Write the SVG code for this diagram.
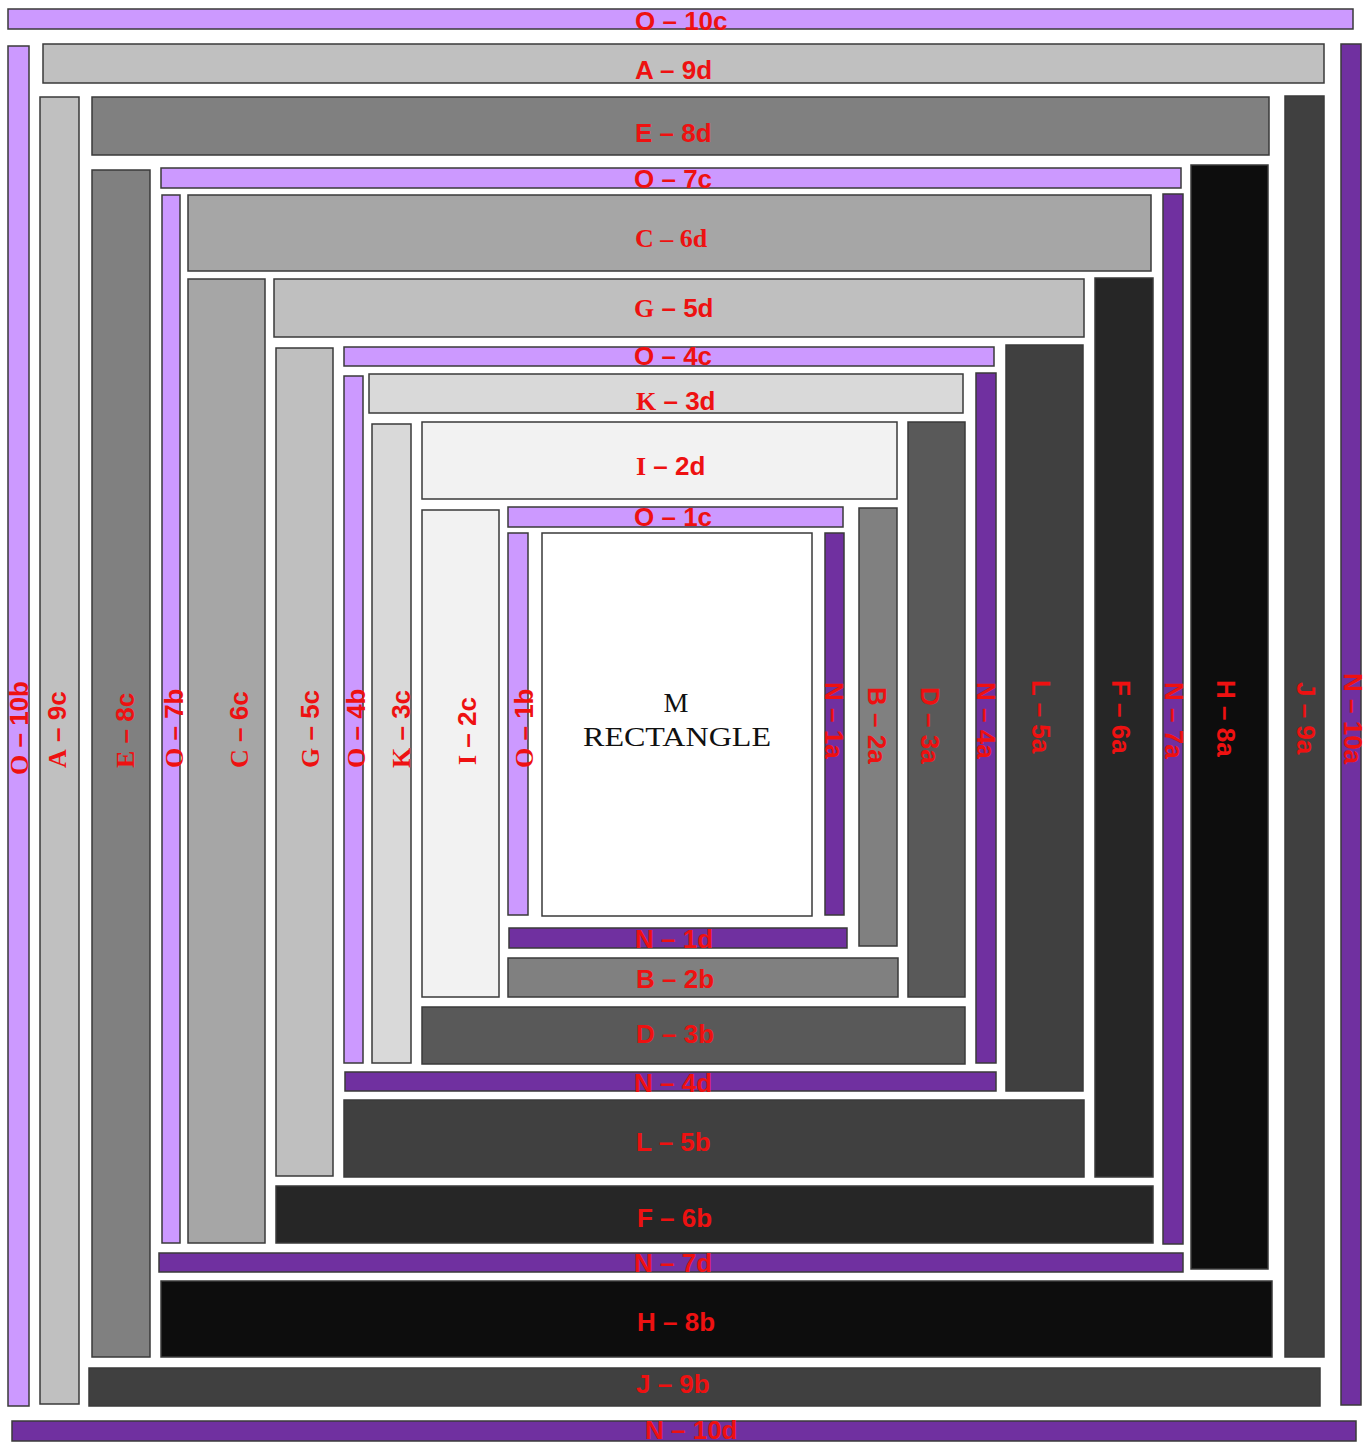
<svg xmlns="http://www.w3.org/2000/svg" width="1370" height="1445" viewBox="0 0 1370 1445">
<style>
.n rect{stroke:#3a3a3a;stroke-width:1.5}
.lp{fill:#CC99FF}
.dp{fill:#7030A0}
text{font-family:"Liberation Sans",Arial,sans-serif;font-weight:bold;font-size:26px;fill:#EE1111}
.s{font-family:"Liberation Serif","Times New Roman",serif}
.m{font-family:"Liberation Serif","Times New Roman",serif;font-weight:normal;font-size:28px;fill:#111;text-anchor:middle}
</style>
<rect width="1370" height="1445" fill="#fff"/>
<g id="nodes" class="n">
<g id="O10c"><rect class="lp" x="8" y="9" width="1345" height="20"/><text x="635" y="30">O – 10c</text></g>
<g id="O10b"><rect class="lp" x="8" y="46" width="21" height="1360"/><text transform="translate(28,775) rotate(-90)"><tspan class="s">O</tspan> – 10b</text></g>
<g id="N10a"><rect class="dp" x="1341" y="44" width="20" height="1361"/><text transform="translate(1344,673) rotate(90)">N – 10a</text></g>
<g id="N10d"><rect class="dp" x="12" y="1421" width="1344" height="20"/><text x="645" y="1439">N – 10d</text></g>
<g id="A9d"><rect fill="#C0C0C0" x="43" y="44" width="1281" height="39"/><text x="635" y="79">A – 9d</text></g>
<g id="A9c"><rect fill="#C0C0C0" x="40" y="97" width="39" height="1307"/><text transform="translate(66,768) rotate(-90)"><tspan class="s">A</tspan> – 9c</text></g>
<g id="J9a"><rect fill="#404040" x="1285" y="96" width="39" height="1261"/><text transform="translate(1297,682) rotate(90)">J – 9a</text></g>
<g id="J9b"><rect fill="#404040" x="89" y="1368" width="1231" height="38"/><text x="636" y="1393">J – 9b</text></g>
<g id="E8d"><rect fill="#808080" x="92" y="97" width="1177" height="58"/><text x="635" y="142">E – 8d</text></g>
<g id="E8c"><rect fill="#808080" x="92" y="170" width="58" height="1187"/><text transform="translate(134,768) rotate(-90)"><tspan class="s">E</tspan> – 8c</text></g>
<g id="H8a"><rect fill="#0D0D0D" x="1191" y="165" width="77" height="1104"/><text transform="translate(1217,680) rotate(90)">H – 8a</text></g>
<g id="H8b"><rect fill="#0D0D0D" x="161" y="1281" width="1111" height="76"/><text x="637" y="1331">H – 8b</text></g>
<g id="O7c"><rect class="lp" x="161" y="168" width="1020" height="20"/><text x="634" y="188">O – 7c</text></g>
<g id="O7b"><rect class="lp" x="162" y="195" width="18" height="1048"/><text transform="translate(183,768) rotate(-90)"><tspan class="s">O</tspan> – 7b</text></g>
<g id="N7a"><rect class="dp" x="1163" y="194" width="20" height="1050"/><text transform="translate(1165,682) rotate(90)">N – 7a</text></g>
<g id="N7d"><rect class="dp" x="159" y="1253" width="1024" height="19"/><text x="634" y="1272">N – 7d</text></g>
<g id="C6d"><rect fill="#A6A6A6" x="188" y="195" width="963" height="76"/><text class="s" x="635" y="247">C – 6d</text></g>
<g id="C6c"><rect fill="#A6A6A6" x="188" y="279" width="77" height="964"/><text transform="translate(248,768) rotate(-90)"><tspan class="s">C</tspan> – 6c</text></g>
<g id="F6a"><rect fill="#262626" x="1095" y="278" width="58" height="899"/><text transform="translate(1112,680) rotate(90)">F – 6a</text></g>
<g id="F6b"><rect fill="#262626" x="276" y="1186" width="877" height="57"/><text x="637" y="1227">F – 6b</text></g>
<g id="G5d"><rect fill="#BFBFBF" x="274" y="279" width="810" height="58"/><text x="634" y="317"><tspan class="s">G</tspan> – 5d</text></g>
<g id="G5c"><rect fill="#BFBFBF" x="276" y="348" width="57" height="828"/><text transform="translate(319,768) rotate(-90)"><tspan class="s">G</tspan> – 5c</text></g>
<g id="L5a"><rect fill="#404040" x="1006" y="345" width="77" height="746"/><text transform="translate(1032,680) rotate(90)">L – 5a</text></g>
<g id="L5b"><rect fill="#404040" x="344" y="1100" width="740" height="77"/><text x="636" y="1151">L – 5b</text></g>
<g id="O4c"><rect class="lp" x="344" y="347" width="650" height="19"/><text x="634" y="365">O – 4c</text></g>
<g id="O4b"><rect class="lp" x="344" y="376" width="19" height="687"/><text transform="translate(365,768) rotate(-90)"><tspan class="s">O</tspan> – 4b</text></g>
<g id="N4a"><rect class="dp" x="976" y="373" width="20" height="690"/><text transform="translate(977,682) rotate(90)">N – 4a</text></g>
<g id="N4d"><rect class="dp" x="345" y="1072" width="651" height="19"/><text x="634" y="1092">N – 4d</text></g>
<g id="K3d"><rect fill="#D9D9D9" x="369" y="374" width="594" height="39"/><text x="636" y="410"><tspan class="s">K</tspan> – 3d</text></g>
<g id="K3c"><rect fill="#D9D9D9" x="372" y="424" width="39" height="639"/><text transform="translate(410,768) rotate(-90)"><tspan class="s">K</tspan> – 3c</text></g>
<g id="D3a"><rect fill="#595959" x="908" y="422" width="57" height="575"/><text transform="translate(921,687) rotate(90)">D – 3a</text></g>
<g id="D3b"><rect fill="#595959" x="422" y="1007" width="543" height="57"/><text x="636" y="1043">D – 3b</text></g>
<g id="I2d"><rect fill="#F2F2F2" x="422" y="422" width="475" height="77"/><text x="636" y="475"><tspan class="s">I</tspan> – 2d</text></g>
<g id="I2c"><rect fill="#F2F2F2" x="422" y="510" width="77" height="487"/><text transform="translate(476,765) rotate(-90)"><tspan class="s">I</tspan> – 2c</text></g>
<g id="B2a"><rect fill="#808080" x="859" y="508" width="38" height="438"/><text transform="translate(868,687) rotate(90)">B – 2a</text></g>
<g id="B2b"><rect fill="#808080" x="508" y="958" width="390" height="39"/><text x="636" y="988">B – 2b</text></g>
<g id="O1c"><rect class="lp" x="508" y="507" width="335" height="20"/><text x="634" y="526">O – 1c</text></g>
<g id="O1b"><rect class="lp" x="508" y="533" width="20" height="382"/><text transform="translate(533,768) rotate(-90)"><tspan class="s">O</tspan> – 1b</text></g>
<g id="N1a"><rect class="dp" x="825" y="533" width="19" height="382"/><text transform="translate(825,682) rotate(90)">N – 1a</text></g>
<g id="N1d"><rect class="dp" x="509" y="928" width="338" height="20"/><text x="635" y="948">N – 1d</text></g>
<g id="M"><rect fill="#FFFFFF" x="542" y="533" width="270" height="383"/><text class="m" x="676" y="712">M</text><text class="m" x="677" y="746" textLength="188" lengthAdjust="spacingAndGlyphs">RECTANGLE</text></g>
</g>
<g id="connectors"/>
</svg>
